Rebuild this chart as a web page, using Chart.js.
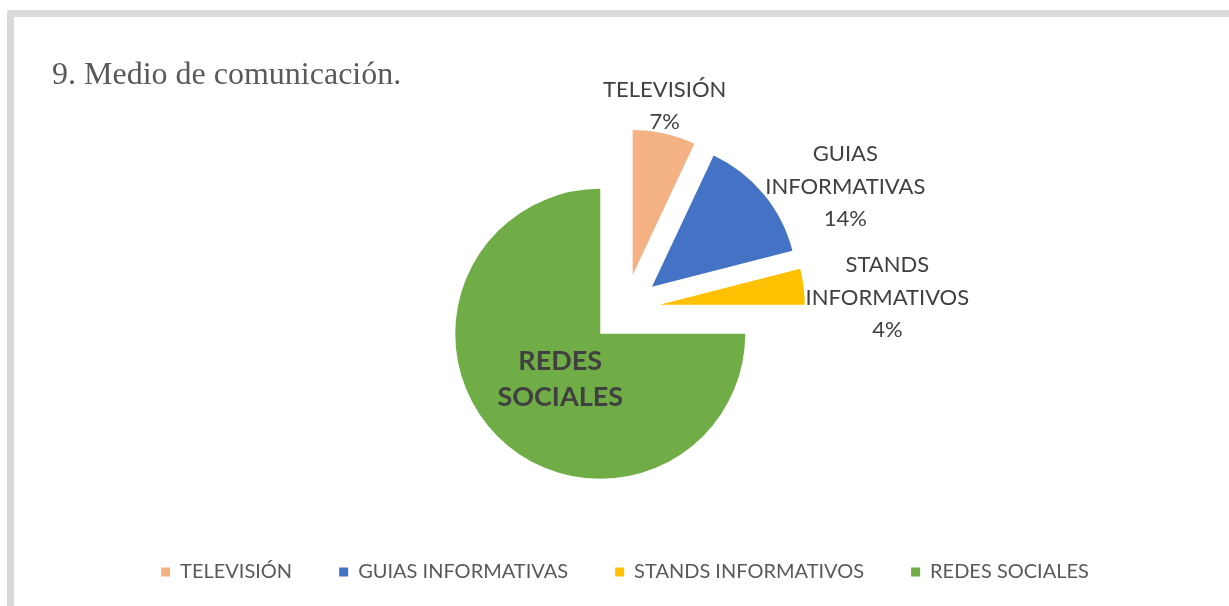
<!DOCTYPE html>
<html>
<head>
<meta charset="utf-8">
<script src="https://cdn.jsdelivr.net/npm/chart.js@4.4.1/dist/chart.umd.min.js"></script>
<style>
  html, body { margin: 0; padding: 0; background: #ffffff; }
  #wrap { position: relative; width: 1229px; height: 606px; overflow: hidden; }
  #frame {
    position: absolute; left: 7px; top: 10px; width: 1240px; height: 590px;
    border-top: 7px solid #d9d9d9; border-left: 7px solid #d9d9d9;
    border-bottom: 3px solid #ececec; border-top-left-radius: 3px;
  }
  #chartBox { position: absolute; left: 0; top: 0; width: 1229px; height: 606px; }
</style>
</head>
<body>
<div id="wrap">
  <div id="frame"></div>
  <div id="chartBox"><canvas id="medioChart"></canvas></div>
</div>
<script>
// Datos del gráfico
const categorias = ['TELEVISIÓN', 'GUIAS INFORMATIVAS', 'STANDS INFORMATIVOS', 'REDES SOCIALES'];
const valores = [7, 14, 4, 75];
const colores = ['#F4B183', '#4472C4', '#FFC000', '#70AD47'];
const titulo = '9. Medio de comunicación.';

const RADIO = 145;
const DESPLAZ = 140; // chart.js translates arcs by offset / 4

// chart.js grows and narrows exploded slices; undo that so all
// slices keep the same radius and their full angle
const fixArcs = {
    id: 'fixArcs',
    beforeDatasetsDraw(chart) {
        const meta = chart.getDatasetMeta(0);
        const base = meta.controller.outerRadius;
        meta.data.forEach(function(arc) {
            const fix = 1 - Math.sin(Math.min(Math.PI, arc.circumference));
            const radOff = (DESPLAZ / 4) * fix;
            arc.outerRadius = base - radOff;
            const ao = radOff / (2 * Math.PI * base);
            const mid = (arc.startAngle + arc.endAngle) / 2;
            arc.startAngle = mid - arc.circumference / 2 - ao;
            arc.endAngle = mid + arc.circumference / 2 + ao;
        });
    }
};

// data labels placed like the excel original
const etiquetas = {
    id: 'etiquetas',
    afterDatasetsDraw(chart) {
        const ctx = chart.ctx;
        const meta = chart.getDatasetMeta(0);
        const base = meta.controller.outerRadius;
        const total = valores.reduce((a, b) => a + b, 0);
        const shift = DESPLAZ / 4;
        ctx.save();
        ctx.textAlign = 'center';
        ctx.textBaseline = 'middle';
        ctx.fillStyle = '#404040';
        meta.data.forEach(function(arc, i) {
            const mid = (arc.startAngle + arc.endAngle) / 2;
            const ux = Math.cos(mid), uy = Math.sin(mid);
            const cx = arc.x + ux * shift;
            const cy = arc.y + uy * shift;
            const lines = categorias[i].split(' ');
            if (i === valores.length - 1) {
                // big slice: name inside, bold
                const lh = 36;
                const px = cx + ux * base * 0.42 + 3;
                const py = cy + uy * base * 0.42 + 2;
                ctx.font = 'bold 27px Lato';
                lines.forEach(function(t, k) {
                    ctx.fillText(t, px, py + (k - (lines.length - 1) / 2) * lh);
                });
                return;
            }
            lines.push(Math.round(valores[i] / total * 100) + '%');
            ctx.font = '22px Lato';
            const lh = 32.5;
            let w = 0;
            lines.forEach(function(t) { w = Math.max(w, ctx.measureText(t).width); });
            const h = lines.length * lh;
            const ax = cx + ux * (base + 2);
            const ay = cy + uy * (base + 2);
            let bx = ax, by = ay;
            if (Math.abs(ux) > Math.abs(uy)) {
                // label to the side, nudged apart vertically
                bx += Math.sign(ux) * w / 2;
                by += 16 + 35 * uy;
            } else {
                by += Math.sign(uy) * (h / 2 - 7);
            }
            lines.forEach(function(t, k) {
                ctx.fillText(t, bx, by + (k - (lines.length - 1) / 2) * lh);
            });
        });
        ctx.restore();
    }
};

new Chart(document.getElementById('medioChart'), {
    type: 'pie',
    data: {
        labels: categorias,
        datasets: [{
            data: valores,
            backgroundColor: colores,
            borderWidth: 0,
            offset: DESPLAZ
        }]
    },
    options: {
        responsive: true,
        maintainAspectRatio: false,
        animation: false,
        radius: RADIO,
        layout: {
            padding: { left: 52, right: 31, top: 10, bottom: 14 }
        },
        plugins: {
            title: {
                display: true,
                text: titulo,
                align: 'start',
                color: '#595959',
                font: { family: 'Liberation Serif', size: 32, weight: 'normal' },
                padding: { top: 46.6, bottom: 8.2 }
            },
            legend: {
                position: 'bottom',
                labels: {
                    color: '#595959',
                    font: { family: 'Lato', size: 20 },
                    boxWidth: 9,
                    boxHeight: 9,
                    padding: 47
                }
            },
            tooltip: { enabled: false }
        }
    },
    plugins: [fixArcs, etiquetas]
});
</script>
</body>
</html>
